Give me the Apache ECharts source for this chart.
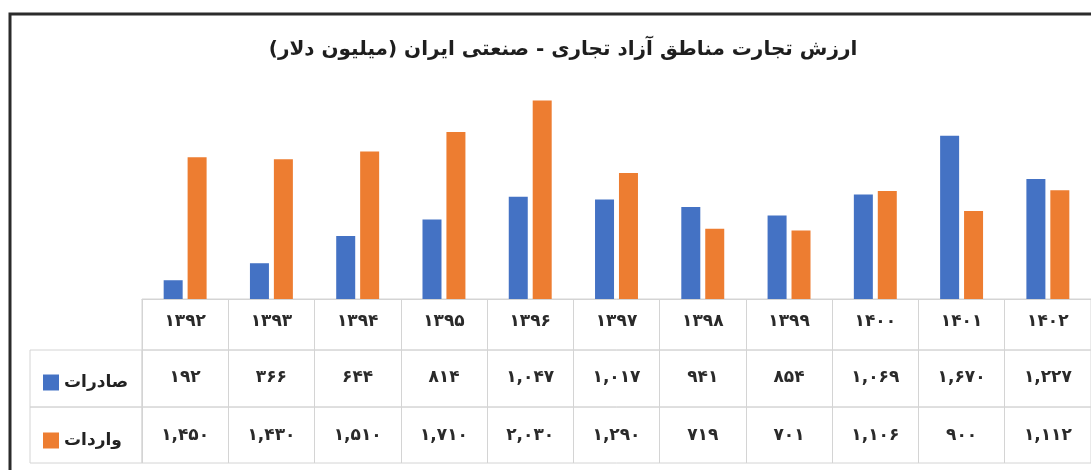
<!DOCTYPE html>
<html>
<head>
<meta charset="utf-8">
<script src="https://cdn.jsdelivr.net/npm/echarts@6/dist/echarts.min.js"></script>
<style>
  html, body { margin: 0; padding: 0; background: #fff; }
  #chart { width: 1091px; height: 470px; }
</style>
</head>
<body>
<div id="chart"></div>
<script>
// data
const titleText = "ارزش تجارت مناطق آزاد تجاری - صنعتی ایران (میلیون دلار)";
const years = [1392, 1393, 1394, 1395, 1396, 1397, 1398, 1399, 1400, 1401, 1402];
const seriesNames = ["صادرات", "واردات"];
const exportsVals = [192, 366, 644, 814, 1047, 1017, 941, 854, 1069, 1670, 1227];
const importsVals = [1450, 1430, 1510, 1710, 2030, 1290, 719, 701, 1106, 900, 1112];

const faDigits = "۰۱۲۳۴۵۶۷۸۹";
function fa(n, group) {
  let s = group ? n.toLocaleString("en-US") : String(n);
  return s.replace(/\d/g, d => faDigits[d]);
}

const rows = [
  years.map(y => fa(y, false)),
  exportsVals.map(v => fa(v, true)),
  importsVals.map(v => fa(v, true))
];
const rowTops = [299, 350, 407];
const rowHeights = [51, 57, 56];
const lineGray = "#d4d4d4";
const font = "DejaVu Sans";

let chart = echarts.init(document.getElementById("chart"));

let grids = [{ left: 142, width: 955, top: 84, height: 215 }];
let xAxes = [{
  gridIndex: 0,
  type: "category",
  data: rows[0],
  axisLine: { show: true, lineStyle: { color: lineGray } },
  axisTick: { show: false },
  axisLabel: { show: false }
}];
let yAxes = [{ gridIndex: 0, type: "value", min: 0, max: 2200, show: false }];

rows.forEach((r, i) => {
  grids.push({
    left: 142,
    width: 955,
    top: rowTops[i],
    height: rowHeights[i],
    show: true,
    borderColor: lineGray,
    borderWidth: 1
  });
  xAxes.push({
    gridIndex: i + 1,
    type: "category",
    position: "top",
    data: r,
    axisLine: { show: false },
    axisTick: { show: false },
    splitLine: { show: true, interval: 0, lineStyle: { color: lineGray } },
    axisLabel: {
      inside: true,
      interval: 0,
      margin: i == 0 ? 14 : (i == 1 ? 19 : 20),
      fontSize: 17,
      fontWeight: "bold",
      fontFamily: font,
      color: "#2a2a2a"
    }
  });
  yAxes.push({ gridIndex: i + 1, type: "value", show: false });
});

let option = {
  animation: false,
  color: ["#4472c4", "#ed7d31"],
  title: {
    text: titleText,
    left: 558,
    top: 35,
    textAlign: "center",
    textStyle: { fontFamily: font, fontSize: 20, fontWeight: "bold", color: "#1e1e1e" }
  },
  legend: {
    data: seriesNames,
    orient: "vertical",
    left: 38,
    top: 369,
    itemWidth: 16,
    itemHeight: 16,
    itemGap: 41,
    icon: "rect",
    textStyle: { fontFamily: font, fontSize: 17, fontWeight: "bold", color: "#222" }
  },
  graphic: [
    {
      type: "rect",
      shape: { x: 10, y: 14, width: 1100, height: 500 },
      style: { fill: "none", stroke: "#2b2b2b", lineWidth: 3 },
      z: 100
    },
    {
      type: "rect",
      shape: { x: 30, y: 350, width: 112, height: 57 },
      style: { fill: "none", stroke: lineGray, lineWidth: 1 }
    },
    {
      type: "rect",
      shape: { x: 30, y: 407, width: 112, height: 56 },
      style: { fill: "none", stroke: lineGray, lineWidth: 1 }
    }
  ],
  grid: grids,
  xAxis: xAxes,
  yAxis: yAxes,
  series: [
    {
      name: seriesNames[0],
      type: "bar",
      xAxisIndex: 0,
      yAxisIndex: 0,
      barWidth: 19,
      barGap: "26%",
      data: exportsVals
    },
    {
      name: seriesNames[1],
      type: "bar",
      xAxisIndex: 0,
      yAxisIndex: 0,
      barWidth: 19,
      barGap: "26%",
      data: importsVals
    }
  ]
};
chart.setOption(option);
</script>
</body>
</html>
